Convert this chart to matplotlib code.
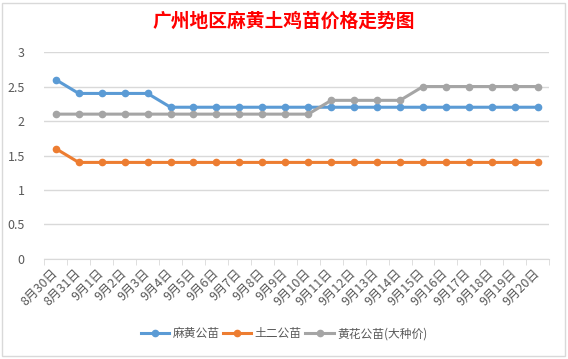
import matplotlib.pyplot as plt
from matplotlib.patches import Rectangle

plt.rcParams['font.family'] = ['Noto Sans CJK SC', 'DejaVu Sans']

dates = ["8月30日", "8月31日"] + ["9月%d日" % d for d in range(1, 21)]
mahuang = [2.6, 2.4, 2.4, 2.4, 2.4] + [2.2] * 17
tuer = [1.6] + [1.4] * 21
huanghua = [2.1] * 12 + [2.3] * 4 + [2.5] * 6

fig = plt.figure(figsize=(5.68, 3.59), dpi=100)
ax = fig.add_axes([0.078, 0.2786, 0.889, 0.5764])

# chart border
fig.patches.append(Rectangle((2/568, 3/359), 563/568, 353/359, transform=fig.transFigure,
                             fill=False, edgecolor="#D9D9D9", linewidth=1))

x = list(range(len(dates)))
ax.plot(x, mahuang, color="#5B9BD5", lw=2.2, marker="o", ms=4.5, label="麻黄公苗")
ax.plot(x, tuer, color="#ED7D31", lw=2.2, marker="o", ms=4.5, label="土二公苗")
ax.plot(x, huanghua, color="#A5A5A5", lw=2.2, marker="o", ms=4.5, label="黄花公苗(大种价)")

ax.set_xlim(-0.5, len(dates) - 0.5)
ax.set_ylim(0, 3)
ax.set_yticks([0, 0.5, 1, 1.5, 2, 2.5, 3])
ax.set_yticklabels(["0", "0.5", "1", "1.5", "2", "2.5", "3"])
ax.grid(axis="y", color="#D9D9D9", lw=1)
ax.set_axisbelow(True)
for s in ["top", "right", "left"]:
    ax.spines[s].set_visible(False)
ax.spines["bottom"].set_color("#D9D9D9")
ax.tick_params(axis="y", length=0, pad=14, labelsize=9, labelcolor="#595959")

ax.set_xticks(x)
ax.set_xticklabels(dates, rotation=45, ha="right", va="center", rotation_mode="anchor",
                   fontsize=9, color="#595959")
ax.tick_params(axis="x", which="major", length=0, pad=9)
ax.set_xticks([i - 0.5 for i in range(len(dates) + 1)], minor=True)
ax.tick_params(axis="x", which="minor", length=4, color="#D9D9D9")

fig.text(0.5, 0.94, "广州地区麻黄土鸡苗价格走势图", ha="center", va="center",
         color="red", fontsize=13.5, fontweight="bold")

fig.legend(loc="center", bbox_to_anchor=(0.5, 0.07), ncol=3, frameon=False,
           fontsize=8.5, labelcolor="#595959", handlelength=2.4, columnspacing=0.3, handletextpad=0.3)

fig.savefig("out.png", dpi=100)
